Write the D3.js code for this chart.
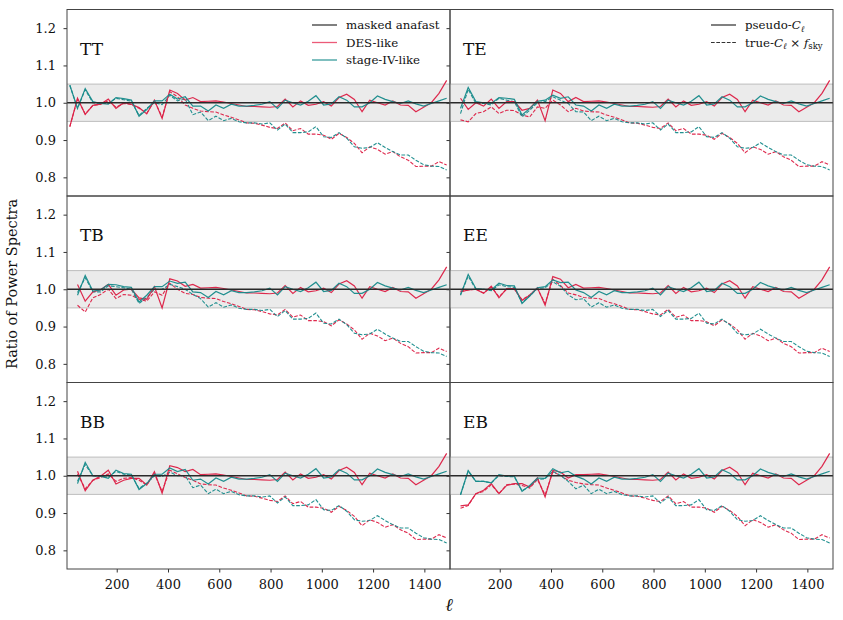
<!DOCTYPE html>
<html>
<head>
<meta charset="utf-8">
<script src="https://cdn.jsdelivr.net/npm/d3@7"></script>
<style>
body{margin:0;background:#fff;}
text{font-family:"DejaVu Serif",serif;fill:#111;}
</style>
</head>
<body>
<svg id="chart" width="843" height="620"></svg>
<script>
// bin centres in ell
var ells=[17,47,77,107,137,167,197,227,257,287,317,347,377,407,437,467,497,
  527,557,587,617,647,677,707,737,767,797,827,857,887,917,947,977,1007,1037,1067,
  1097,1127,1157,1187,1217,1247,1277,1307,1337,1367,1397,1427,1457,1487];

var panels=["TT","TE","TB","EE","BB","EB"];
var yTicks=[0.8,0.9,1.0,1.1,1.2];
var xTicks=[200,400,600,800,1000,1200,1400];

// high-ell part (l >= 527), the same look in every panel
var tailSolidDES=[1.003,1.004,1.005,1.002,0.998,0.994,0.990,0.990,0.989,0.988,0.990,1.010,0.989,1.005,0.993,0.996,1.003,0.991,1.014,1.023,1.009,0.976,1.007,1.000,0.994,1.005,0.994,0.993,0.976,0.988,1.000,1.025,1.060];
var tailSolidS4=[0.991,0.978,0.994,0.985,0.996,0.991,0.991,0.993,0.996,1.003,0.985,1.007,1.000,0.994,1.004,1.019,0.994,0.997,1.016,1.007,0.989,0.989,1.000,1.018,1.009,1.003,0.998,1.005,0.997,0.991,0.998,1.005,1.012];
var tailTrueDES=[0.978,0.976,0.975,0.967,0.961,0.954,0.946,0.945,0.940,0.934,0.931,0.946,0.925,0.931,0.916,0.916,0.913,0.902,0.918,0.907,0.891,0.866,0.882,0.875,0.862,0.869,0.855,0.846,0.829,0.830,0.830,0.842,0.833];
var tailTrueS4=[0.975,0.952,0.964,0.952,0.958,0.949,0.946,0.946,0.943,0.946,0.927,0.943,0.920,0.920,0.922,0.936,0.909,0.907,0.920,0.905,0.882,0.878,0.880,0.893,0.880,0.869,0.860,0.860,0.846,0.834,0.830,0.829,0.820];

// low-ell part (l = 17..497), per panel. null = no bin
var headSolidDES={
  TT:[0.936,1.012,0.969,0.993,0.996,1.010,0.985,1.000,0.996,0.987,0.970,1.007,0.958,1.034,1.025,1.007,1.014],
  TE:[null,1.012,0.982,1.000,0.991,1.010,0.985,1.003,1.003,0.980,0.985,1.007,0.952,1.034,1.025,1.003,1.014],
  TB:[null,1.013,0.968,0.993,0.999,1.013,0.984,0.998,1.000,0.977,0.973,1.007,0.950,1.028,1.022,1.008,1.013],
  EE:[null,0.993,0.998,1.000,0.989,1.008,0.977,1.002,1.002,0.970,0.984,1.004,0.957,1.034,1.027,1.004,1.013],
  BB:[null,1.012,0.960,0.988,0.999,1.015,0.978,0.988,0.993,0.993,0.975,1.011,0.953,1.027,1.022,1.011,1.017],
  EB:[null,0.919,0.922,0.952,0.961,0.979,0.952,0.974,0.979,0.979,0.970,0.994,0.943,1.014,1.010,0.994,1.003]
};
var headSolidS4={
  TT:[1.047,0.985,1.038,1.003,0.998,0.996,1.014,1.011,1.007,0.964,0.982,1.005,1.005,1.023,1.010,1.016,0.991],
  TE:[null,0.985,1.041,1.003,1.000,0.998,1.014,1.012,1.009,0.967,0.985,1.004,1.007,1.020,1.012,1.016,0.994],
  TB:[null,0.984,1.037,0.995,0.998,1.013,1.012,1.007,1.005,0.966,0.984,1.007,1.007,1.022,1.016,1.019,0.993],
  EE:[null,0.984,1.040,1.002,1.000,0.998,1.016,1.010,1.009,0.962,0.982,1.004,1.007,1.025,1.018,1.019,0.998],
  BB:[null,0.979,1.036,1.000,0.999,0.993,1.015,1.006,1.004,0.963,0.979,1.004,1.004,1.021,1.011,1.017,0.988],
  EB:[null,0.949,1.014,0.985,0.985,0.981,1.003,0.999,0.999,0.958,0.974,0.994,0.993,1.019,1.008,1.012,0.999]
};
var headTrueDES={
  TT:[0.936,1.010,0.970,0.993,0.996,1.005,0.988,0.998,0.995,0.985,0.972,1.005,0.962,1.030,1.016,0.994,0.985],
  TE:[null,0.954,0.949,0.971,0.976,0.989,0.971,0.980,0.979,0.967,0.962,0.989,0.985,1.007,0.994,0.976,0.985],
  TB:[null,0.957,0.939,0.977,0.986,1.000,0.975,0.986,0.984,0.973,0.968,0.993,0.984,1.016,1.000,0.989,0.986],
  EE:[null,0.995,0.998,1.000,0.990,1.006,0.980,1.000,1.000,0.972,0.985,1.002,0.962,1.027,1.010,0.990,0.985],
  BB:[null,1.005,0.965,0.988,0.995,1.005,0.985,0.993,0.995,0.988,0.975,1.005,0.958,1.015,1.005,0.995,0.988],
  EB:[null,0.913,0.920,0.952,0.958,0.976,0.952,0.976,0.978,0.974,0.967,0.990,0.949,1.010,1.001,0.988,0.982]
};
var headTrueS4={
  TT:[1.047,0.985,1.035,1.000,0.998,0.998,1.012,1.008,1.004,0.966,0.985,1.000,0.995,1.020,1.005,1.010,0.968],
  TE:[null,0.971,1.036,0.998,0.998,0.994,1.012,1.007,1.003,0.962,0.980,1.000,1.003,1.016,1.007,0.998,0.976],
  TB:[null,0.991,1.031,0.993,0.993,1.009,1.007,1.004,1.000,0.962,0.978,1.000,1.000,1.013,1.007,1.000,0.986],
  EE:[null,0.986,1.035,1.000,1.000,0.996,1.012,1.007,1.005,0.964,0.982,1.002,1.004,1.020,1.008,0.985,0.972],
  BB:[null,0.985,1.030,1.000,0.998,0.996,1.012,1.004,1.002,0.966,0.980,1.000,0.998,1.010,1.000,1.000,0.968],
  EB:[null,0.949,1.012,0.985,0.985,0.981,1.000,0.998,0.997,0.960,0.972,0.990,0.992,1.012,1.001,0.985,0.965]
};

var colDES="#dc1f45", colS4="#168a8a";

var svg=d3.select("#chart");
var left=67, top0=9.5, pw=383, ph=186.5;

var x=d3.scaleLinear().domain([6,1500]).range([0,pw]);
var y=d3.scaleLinear().domain([0.75,1.25]).range([ph,0]);

var line=d3.line()
  .defined(function(d){return d[1]!=null;})
  .x(function(d){return x(d[0]);})
  .y(function(d){return y(d[1]);});

function pairs(vals){
  return ells.map(function(l,i){return [l,vals[i]];});
}

panels.forEach(function(name,i){
  var col=i%2, row=Math.floor(i/2);
  var g=svg.append("g").attr("transform","translate("+(left+col*pw)+","+(top0+row*ph)+")");

  g.append("clipPath").attr("id","clip"+i).append("rect").attr("width",pw).attr("height",ph);
  var body=g.append("g").attr("clip-path","url(#clip"+i+")");

  // +-5% band
  body.append("rect").attr("x",0).attr("width",pw)
    .attr("y",y(1.05)).attr("height",y(0.95)-y(1.05))
    .attr("fill","#ebebeb");
  [0.95,1.05].forEach(function(v){
    body.append("line").attr("x1",0).attr("x2",pw).attr("y1",y(v)).attr("y2",y(v))
      .attr("stroke","#bdbdbd").attr("stroke-width",1);
  });

  var series=[
    {v:[].concat(headTrueDES[name],tailTrueDES),c:colDES,dash:"3.7,1.6",w:1.1},
    {v:[].concat(headTrueS4[name],tailTrueS4),c:colS4,dash:"3.7,1.6",w:1.1},
    {v:[].concat(headSolidDES[name],tailSolidDES),c:colDES,dash:null,w:1.2},
    {v:[].concat(headSolidS4[name],tailSolidS4),c:colS4,dash:null,w:1.2}
  ];
  series.forEach(function(s){
    body.append("path").datum(pairs(s.v)).attr("d",line)
      .attr("fill","none").attr("stroke",s.c).attr("stroke-width",s.w)
      .attr("stroke-dasharray",s.dash).attr("stroke-opacity",0.95);
  });

  // masked anafast reference
  body.append("line").attr("x1",0).attr("x2",pw).attr("y1",y(1)).attr("y2",y(1))
    .attr("stroke","#2a2a2a").attr("stroke-width",1.5);

  g.append("text").attr("x",13).attr("y",45).attr("font-size",17).text(name);

  // y ticks
  var yAx=g.append("g").call(d3.axisLeft(y).tickValues(yTicks).tickSize(3.5)
    .tickFormat(col==0?d3.format(".1f"):""));
  yAx.select(".domain").remove();
  yAx.selectAll("line").attr("stroke","#333");
  yAx.selectAll("text").attr("font-size",13).attr("font-family","DejaVu Serif").attr("fill","#111").attr("dx","-4.5");

  if(row==2){
    var xAx=g.append("g").attr("transform","translate(0,"+ph+")")
      .call(d3.axisBottom(x).tickValues(xTicks).tickSize(3.5).tickFormat(d3.format("d")));
    xAx.select(".domain").remove();
    xAx.selectAll("line").attr("stroke","#333");
    xAx.selectAll("text").attr("font-size",13).attr("font-family","DejaVu Serif").attr("fill","#111").attr("dy","1.05em");
  }

  g.append("rect").attr("width",pw).attr("height",ph)
    .attr("fill","none").attr("stroke","#444").attr("stroke-width",1);
});

// legend in TT
var lg1=[{t:"masked anafast",c:"#808080",w:2},{t:"DES-like",c:"#ec5a78",w:1.3},{t:"stage-IV-like",c:"#3a9c9c",w:1.3}];
lg1.forEach(function(d,k){
  var yy=25+k*17.5;
  svg.append("line").attr("x1",312).attr("x2",337).attr("y1",yy).attr("y2",yy)
    .attr("stroke",d.c).attr("stroke-width",d.w);
  svg.append("text").attr("x",346).attr("y",yy+4).attr("font-size",11.8).text(d.t);
});

// legend in TE
svg.append("line").attr("x1",711).attr("x2",736).attr("y1",25).attr("y2",25)
  .attr("stroke","#808080").attr("stroke-width",2);
var t1=svg.append("text").attr("x",745).attr("y",29).attr("font-size",11.8);
t1.append("tspan").text("pseudo-");
t1.append("tspan").attr("font-style","italic").text("C");
t1.append("tspan").attr("font-style","italic").attr("font-size",8.5).attr("dy",2.5).text("ℓ");

svg.append("line").attr("x1",711).attr("x2",736).attr("y1",42.5).attr("y2",42.5)
  .attr("stroke","#333").attr("stroke-width",1).attr("stroke-dasharray","3.7,1.6");
var t2=svg.append("text").attr("x",745).attr("y",46.5).attr("font-size",11.8);
t2.append("tspan").text("true-");
t2.append("tspan").attr("font-style","italic").text("C");
t2.append("tspan").attr("font-style","italic").attr("font-size",8.5).attr("dy",2.5).text("ℓ");
t2.append("tspan").attr("dy",-2.5).text(" × ");
t2.append("tspan").attr("font-style","italic").text("f");
t2.append("tspan").attr("font-size",8.5).attr("dy",2.5).text("sky");

// axis labels
svg.append("text").attr("transform","translate(17,284) rotate(-90)")
  .attr("text-anchor","middle").attr("font-size",14.5).text("Ratio of Power Spectra");
svg.append("text").attr("x",449).attr("y",611).attr("text-anchor","middle")
  .attr("font-size",18).attr("font-style","italic").text("ℓ");
</script>
</body>
</html>
